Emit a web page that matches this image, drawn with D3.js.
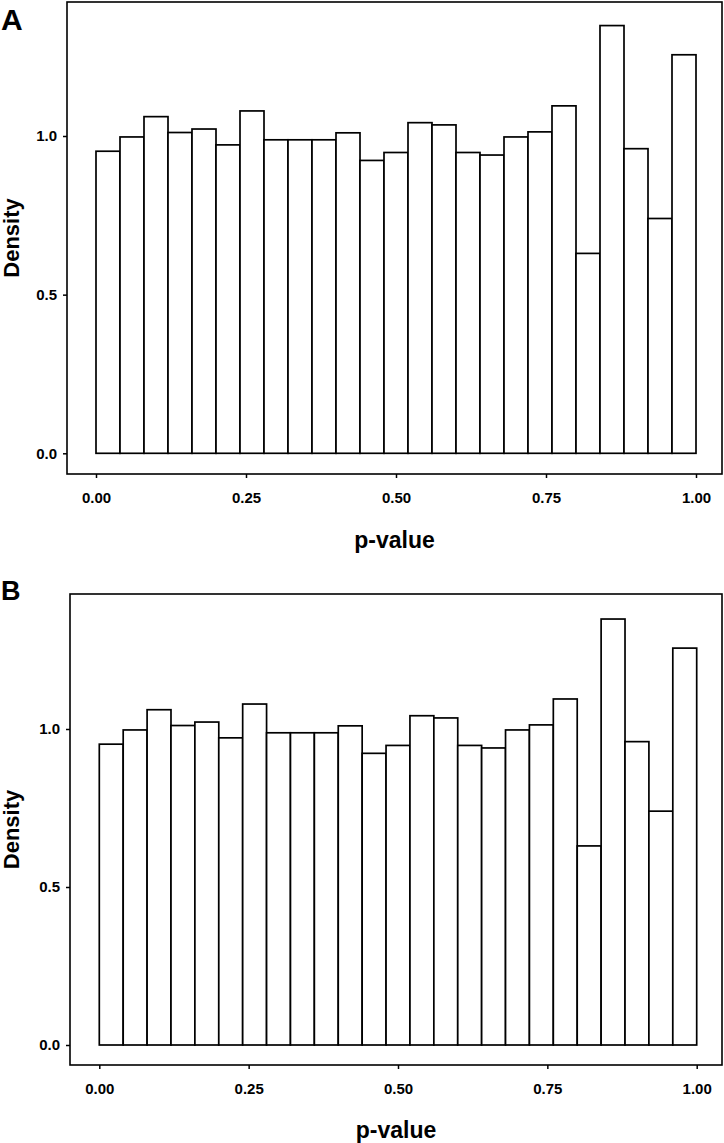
<!DOCTYPE html>
<html>
<meta charset="utf-8">
<style>
body { margin: 0; background: #fff; }
svg { display: block; }
.bar { fill: #fff; stroke: #000; stroke-width: 1.7; }
</style>
<body>
<svg width="724" height="1143"></svg>
<script src="https://cdnjs.cloudflare.com/ajax/libs/d3/7.8.5/d3.min.js"></script>
<script>
// histogram of p-values, 25 bins of width 0.04
var binStart = [0.00, 0.04, 0.08, 0.12, 0.16, 0.20, 0.24, 0.28, 0.32, 0.36,
                0.40, 0.44, 0.48, 0.52, 0.56, 0.60, 0.64, 0.68, 0.72, 0.76,
                0.80, 0.84, 0.88, 0.92, 0.96];
var binWidth = 0.04;
var density = [0.952, 0.997, 1.061, 1.011, 1.022, 0.972, 1.079, 0.988, 0.988, 0.988,
               1.010, 0.923, 0.948, 1.042, 1.035, 0.948, 0.940, 0.997, 1.013, 1.095,
               0.630, 1.348, 0.960, 0.740, 1.256];
var xTicks = [0, 0.25, 0.5, 0.75, 1];
var yTicks = [0, 0.5, 1];

var font = "'Liberation Sans', Arial, sans-serif";

var panels = [
  {tag: "A", tagSize: 30, tagY: 30, left: 67, top: 2, right: 722, bottom: 474,
   x0: 96, x1: 696, y0: 453.3, y1: 136, xLabY: 548},
  {tag: "B", tagSize: 27, tagY: 600, left: 70, top: 594, right: 722, bottom: 1065,
   x0: 99.3, x1: 696.7, y0: 1045, y1: 729, xLabY: 1138}
];

var svg = d3.select("svg");

function styleAxis(a) {
  a.select(".domain").remove();
  a.selectAll("line").attr("stroke-width", 1.5);
  a.selectAll("text")
    .style("font-family", font)
    .style("font-size", "15px")
    .style("font-weight", "bold")
    .attr("fill", "#000");
}

panels.forEach(function(p) {
  var x = d3.scaleLinear().domain([0, 1]).range([p.x0, p.x1]);
  var y = d3.scaleLinear().domain([0, 1]).range([p.y0, p.y1]);
  var g = svg.append("g");

  g.selectAll(".bar")
    .data(density)
    .enter().append("rect")
      .attr("class", "bar")
      .attr("x", function(d, i) { return x(binStart[i]); })
      .attr("width", function(d, i) { return x(binStart[i] + binWidth) - x(binStart[i]); })
      .attr("y", function(d) { return y(d); })
      .attr("height", function(d) { return y(0) - y(d); });

  g.append("rect")
    .attr("x", p.left).attr("y", p.top)
    .attr("width", p.right - p.left).attr("height", p.bottom - p.top)
    .attr("fill", "none").attr("stroke", "#000").attr("stroke-width", 1.6);

  g.append("g")
    .attr("transform", "translate(0," + p.bottom + ")")
    .call(d3.axisBottom(x).tickValues(xTicks).tickFormat(d3.format(".2f"))
      .tickSize(4).tickPadding(14))
    .call(styleAxis);

  g.append("g")
    .attr("transform", "translate(" + p.left + ",0)")
    .call(d3.axisLeft(y).tickValues(yTicks).tickFormat(d3.format(".1f"))
      .tickSize(4).tickPadding(6))
    .call(styleAxis);

  g.append("text")
    .attr("x", (p.left + p.right) / 2)
    .attr("y", p.xLabY)
    .attr("text-anchor", "middle")
    .style("font-family", font)
    .style("font-size", "23px").style("font-weight", "bold")
    .text("p-value");

  g.append("text")
    .attr("transform", "translate(19," + (p.top + p.bottom) / 2 + ") rotate(-90)")
    .attr("text-anchor", "middle")
    .style("font-family", font)
    .style("font-size", "22px").style("font-weight", "bold")
    .text("Density");

  g.append("text")
    .attr("x", 1).attr("y", p.tagY)
    .style("font-family", font)
    .style("font-size", p.tagSize + "px").style("font-weight", "bold")
    .text(p.tag);
});
</script>
</body>
</html>
